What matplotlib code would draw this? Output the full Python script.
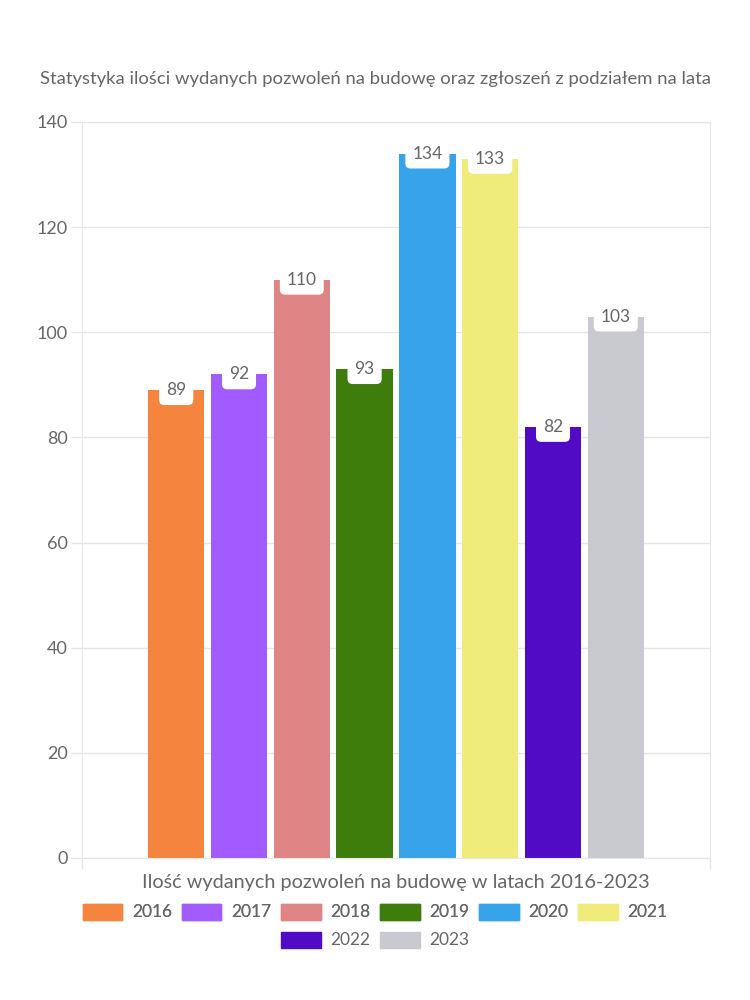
import matplotlib.pyplot as plt
import matplotlib.patches as mpatches

years = ['2016', '2017', '2018', '2019', '2020', '2021', '2022', '2023']
permits = [89, 92, 110, 93, 134, 133, 82, 103]
colors = ['#f5843f', '#a15bff', '#e08585', '#3e7c0b', '#37a3eb', '#f0ec7c', '#520bc4', '#c9cacf']

title = 'Statystyka ilości wydanych pozwoleń na budowę oraz zgłoszeń z podziałem na lata'
xlabel = 'Ilość wydanych pozwoleń na budowę w latach 2016-2023'
yticks = [0, 20, 40, 60, 80, 100, 120, 140]

plt.rcParams['font.family'] = ['Lato', 'DejaVu Sans']
txt = '#666666'
grid = '#e6e6e6'

fig = plt.figure(figsize=(7.5, 10), dpi=100)
ax = fig.add_axes([82 / 750, 142 / 1000, 628 / 750, 736 / 1000])

# chart.js-like grouping: one category, 8 datasets
n = len(years)
slot = 0.8 / n
for i, (y, v, c) in enumerate(zip(years, permits, colors)):
    x = 0.1 + slot * (i + 0.5)
    ax.bar(x, v, width=slot * 0.9, color=c, label=y, zorder=2)
    ax.text(x, v, str(v), ha='center', va='center', fontsize=12.5, color=txt, zorder=4,
            bbox=dict(boxstyle='round,pad=0.4,rounding_size=0.3', fc='white', ec='none'))

ax.set_xlim(0, 1)
ax.set_ylim(0, 140)
ax.set_yticks(yticks)
ax.set_xticks([0, 1])
ax.set_xticklabels(['', ''])
ax.tick_params(axis='y', colors=grid, labelcolor=txt, labelsize=13, length=8, width=1, pad=2)
ax.tick_params(axis='x', colors=grid, length=8, width=1)
ax.grid(axis='y', color=grid, lw=1, zorder=0)
for s in ax.spines.values():
    s.set_color(grid)

ax.set_xlabel(xlabel, fontsize=14.3, color=txt, labelpad=0)
fig.text(0.5, 0.921, title, ha='center', va='center', fontsize=13.3, color=txt)

handles = [mpatches.Patch(color=c, label=y) for y, c in zip(years, colors)]
opts = dict(loc='center', frameon=False, fontsize=12.5, handlelength=2.3, handleheight=1.05,
            columnspacing=0.55, handletextpad=0.55, labelcolor=txt)
leg1 = fig.legend(handles=handles[:6], bbox_to_anchor=(0.5, 0.088), ncol=6, **opts)
fig.legend(handles=handles[6:], bbox_to_anchor=(0.5, 0.06), ncol=2, **opts)
fig.add_artist(leg1)

fig.savefig('out.png', dpi=100)
